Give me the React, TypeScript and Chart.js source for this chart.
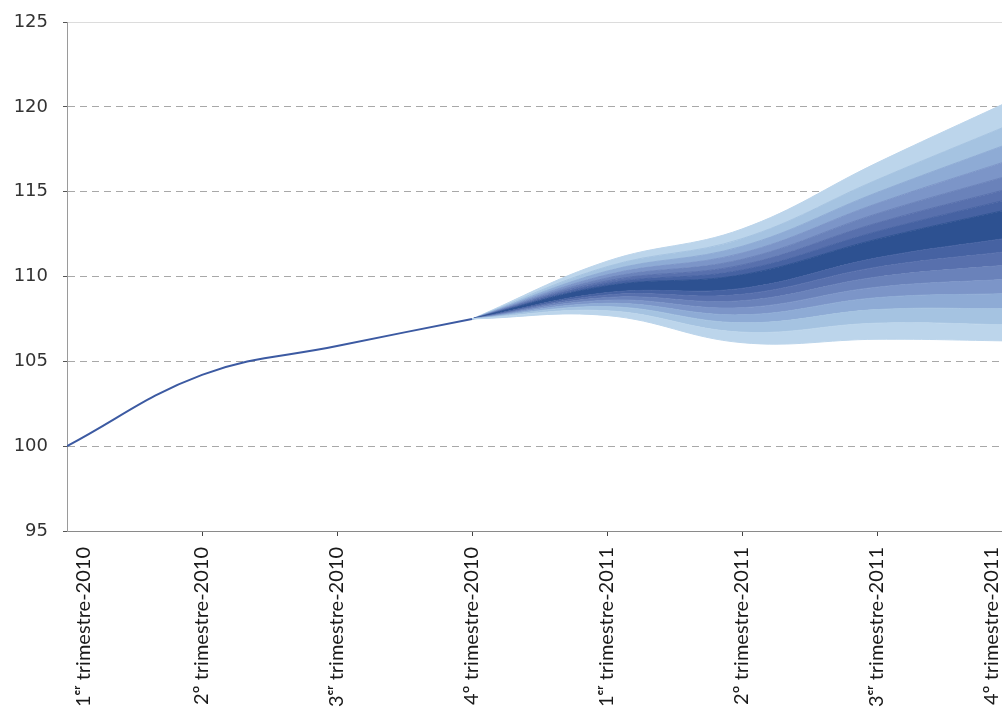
import React, { useEffect, useRef } from "react";
import { Chart, registerables } from "chart.js";

Chart.register(...registerables);

// Category labels (one per quarter)
const quarterLabels = [
  "1ᵉʳ trimestre-2010",
  "2º trimestre-2010",
  "3ᵉʳ trimestre-2010",
  "4º trimestre-2010",
  "1ᵉʳ trimestre-2011",
  "2º trimestre-2011",
  "3ᵉʳ trimestre-2011",
  "4º trimestre-2011",
];
const quarterPositions = [0, 1, 2, 3, 4, 5, 6, 7];
// where each rotated label sits (first/last nudged inside the visible frame, as in the source)
const labelPositions = [0.12, 1, 2, 3, 4, 5, 6, 6.85];

// Observed index (history line)
const historyValues = [100, 104.2, 105.9, 107.5];

// Fan boundaries, bottom -> top, one list per projected quarter
const fanQ4_2010 = [107.5, 107.5, 107.5, 107.5, 107.5, 107.5, 107.5, 107.5, 107.5, 107.5, 107.5, 107.5, 107.5, 107.5, 107.5, 107.5];
const fanQ1_2011 = [107.7, 107.98, 108.22, 108.42, 108.6, 108.76, 108.91, 109.05, 109.45, 109.59, 109.74, 109.91, 110.1, 110.32, 110.58, 110.9];
const fanQ2_2011 = [106.1, 106.72, 107.27, 107.74, 108.16, 108.57, 108.95, 109.3, 110.1, 110.38, 110.68, 111.01, 111.38, 111.78, 112.23, 112.8];
const fanQ3_2011 = [106.3, 107.25, 108.05, 108.75, 109.37, 109.97, 110.55, 111.1, 112.2, 112.65, 113.15, 113.7, 114.3, 114.95, 115.7, 116.7];
const fanQ4_2011 = [106.2, 107.15, 108.1, 109.0, 109.85, 110.7, 111.5, 112.3, 114.0, 114.6, 115.22, 116.0, 116.9, 117.9, 119.0, 120.4];
const fanByQuarter = [fanQ4_2010, fanQ1_2011, fanQ2_2011, fanQ3_2011, fanQ4_2011];
const fanStartIndex = 3;

// Band colours, bottom -> top
const bandColors = [
  "#bcd5eb", "#a5c3e1", "#8eabd5", "#7c95c8", "#6a82ba", "#5870ad", "#4662a2",
  "#2d5191",
  "#4662a2", "#5870ad", "#6a82ba", "#7c95c8", "#8eabd5", "#a5c3e1", "#bcd5eb",
];
const lineColor = "#3c5aa2";

const yMin = 95;
const yMax = 125;
const yStep = 5;

const CANVAS_W = 1013;
const CANVAS_H = 709;
const Y_AXIS_W = 67;
const X_AXIS_H = 178;
const TOP_PAD = 22;
const LABEL_FONT = "Lato";

export default function App() {
  const ref = useRef<HTMLCanvasElement>(null);

  useEffect(() => {
    if (!ref.current) return;
    const datasets: any[] = [];

    datasets.push({
      data: historyValues.map((v, i) => ({ x: quarterPositions[i], y: v })),
      borderColor: lineColor,
      borderWidth: 2,
      pointRadius: 0,
      fill: false,
      tension: 0.4,
    });

    const boundaryCount = fanQ4_2010.length;
    for (let b = 0; b < boundaryCount; b++) {
      const color = b === 0 ? bandColors[0] : bandColors[b - 1];
      datasets.push({
        data: fanByQuarter.map((q, i) => ({ x: quarterPositions[fanStartIndex + i], y: q[b] })),
        borderColor: color,
        backgroundColor: color,
        borderWidth: 1,
        pointRadius: 0,
        fill: b === 0 ? false : "-1",
        tension: 0.4,
      });
    }

    const chart = new Chart(ref.current, {
      type: "line",
      data: { datasets },
      options: {
        animation: false,
        responsive: false,
        events: [],
        layout: { padding: { top: TOP_PAD, left: 0, right: 0, bottom: 0 } },
        plugins: { legend: { display: false }, tooltip: { enabled: false } },
        scales: {
          x: {
            type: "linear",
            min: 0,
            max: 7,
            afterBuildTicks: (scale: any) => {
              scale.ticks = labelPositions.map((v) => ({ value: v }));
            },
            afterFit: (scale: any) => {
              scale.height = X_AXIS_H;
              scale.paddingLeft = 0;
              scale.paddingRight = 0;
            },
            ticks: {
              autoSkip: false,
              minRotation: 90,
              maxRotation: 90,
              padding: 11,
              color: "#1a1a1a",
              font: { family: LABEL_FONT, size: 20 },
              callback: (_v: any, index: number) => quarterLabels[index],
            },
            grid: {
              drawOnChartArea: false,
              drawTicks: true,
              tickLength: 5,
              tickColor: (c: any) =>
                c.index === 0 || c.index === labelPositions.length - 1 ? "rgba(0,0,0,0)" : "#444",
            },
            border: { color: "#8a8a8a", width: 1 },
          },
          y: {
            min: yMin,
            max: yMax,
            afterFit: (scale: any) => {
              scale.width = Y_AXIS_W;
              scale.paddingTop = 0;
              scale.paddingBottom = 0;
            },
            ticks: {
              stepSize: yStep,
              padding: 15,
              color: "#333",
              font: { family: "DejaVu Sans", size: 18 },
            },
            grid: {
              color: (c: any) =>
                c.tick && c.tick.value === yMax
                  ? "#dcdcdc"
                  : c.tick && c.tick.value === yMin
                  ? "rgba(0,0,0,0)"
                  : "#a8a8a8",
              lineWidth: 1,
              tickLength: 4,
              tickColor: "#555",
            },
            border: {
              color: "#9a9a9a",
              width: 1,
              dash: (c: any) => (c.tick && c.tick.value === yMax ? [] : [7, 5]),
            },
          },
        },
      },
    } as any);

    let alive = true;
    if ((document as any).fonts && (document as any).fonts.load) {
      (document as any).fonts
        .load(`20px ${LABEL_FONT}`)
        .then(() => {
          if (alive) chart.update();
        })
        .catch(() => {});
    }

    return () => {
      alive = false;
      chart.destroy();
    };
  }, []);

  return (
    <div
      style={{
        position: "fixed",
        left: 0,
        top: 0,
        width: 1002,
        height: 709,
        overflow: "hidden",
        background: "#fff",
      }}
    >
      <canvas
        ref={ref}
        width={CANVAS_W}
        height={CANVAS_H}
        style={{ display: "block", width: CANVAS_W, height: CANVAS_H }}
      />
    </div>
  );
}
